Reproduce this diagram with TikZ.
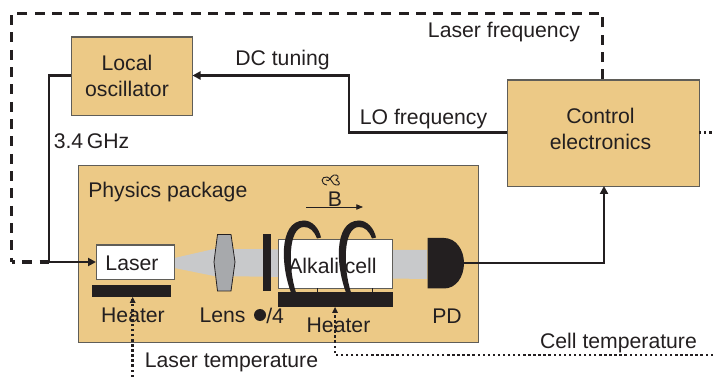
\documentclass[tikz,border=0pt]{standalone}
\usepackage{fontspec}
\setmainfont{Liberation Sans}
\usetikzlibrary{arrows.meta}
\definecolor{gd}{HTML}{ECC986}
\definecolor{bk}{HTML}{231F20}
\definecolor{ol}{HTML}{5F5D58}
\definecolor{bm}{HTML}{C8C9CB}
\definecolor{ls}{HTML}{A7A9AC}
\begin{document}
\begin{tikzpicture}[x=0.75pt,y=-0.75pt]
            \tikzstyle{every node}=[font=\fontsize{15.9}{18}\selectfont,text=bk,inner sep=0pt]
            \tikzstyle{box}=[draw=ol,line width=0.8pt,anchor=north west]
            \tikzstyle{lbl}=[yshift=-1.3pt]
            \tikzstyle{sig}=[draw=bk,line width=1.9pt]
            \tikzstyle{tipped}=[-{Triangle[length=6pt,width=6pt]}]
            \tikzstyle{dashln}=[draw=bk,line width=2.3pt,dash pattern=on 7.5pt off 5.5pt]
            \tikzstyle{dotln}=[draw=bk,line width=1.9pt,dash pattern=on 1.8pt off 2pt]
            \tikzstyle{coil}=[fill=bk,draw=none]
            \useasboundingbox (0,0) rectangle (713,377);
            \node[box,fill=gd,minimum width=300pt,minimum height=132.75pt] (pkg) at (78,165) {};
            \node[box,fill=gd,minimum width=91pt,minimum height=59pt] (lo) at (71,36.5) {};
            \node[box,fill=gd,minimum width=144.5pt,minimum height=80pt] (ctrl) at (506.5,79.5) {};
            \fill[bm] (174.5,258)--(214,249)--(427,250)--(427,279)--(214,276)--(174.5,268)--cycle;
            \node[box,fill=white,minimum width=58.5pt,minimum height=26pt] (laser) at (96,244.5) {};
            \fill[bk] (92,285.5) rectangle (171,297);
            \coordinate (ht1) at (132.7,297);
            \draw[draw=bk,fill=ls,line width=0.6pt] (217.5,234.5)--(231,234.5)--(235,262)--(231,291)--(217.5,291)--(214,262)--cycle;
            \fill[bk] (263,234) rectangle (271,291.5);
            \node[box,fill=white,minimum width=85.5pt,minimum height=37pt] (cell) at (278,239) {};
            \fill[bk] (278,292) rectangle (393,307);
            \coordinate (ht2) at (335,307.5);
            \draw[bk,line width=0.5pt] (317,288.5)--(317,292) (372.7,288.5)--(372.7,292);
            \fill[bk] (427.5,238) -- (444,238) .. controls (456,238) and (464,250) .. (464,263) .. controls (464,277) and (456,288.5) .. (444,288.5) -- (427.5,288.5) -- cycle;
            \coordinate (pd) at (464,263);
            % labels inside the cell go under the coils
            \node[lbl] (lbCel) at (332.5,264) {Alkali cell};
            % coils
            \foreach \dx in {0,55}{
              \fill[coil,xshift=\dx*0.75pt] (291,292.5) .. controls (282,270) and (277,221) .. (304,220.5) .. controls (312,220.5) and (319,228) .. (321,237.5) -- (317,238.5) .. controls (314,231) and (310,227) .. (304,227) .. controls (288,227) and (288,268) .. (296,292.5) -- cycle;
            }
            % wires
            \coordinate (c1) at (604,263);
            \coordinate (c2) at (604,186);
            \draw[sig,tipped] (pd) -- (c1) -- (c2);
            \coordinate (a1) at (506.5,132.5);
            \coordinate (a2) at (349,132.5);
            \coordinate (a3) at (349,75.5);
            \coordinate (a4) at (192.5,75.5);
            \draw[sig,tipped] (a1) -- (a2) -- (a3) -- (a4);
            \coordinate (b1) at (71,75.5);
            \coordinate (b2) at (49,75.5);
            \coordinate (b3) at (49,262);
            \coordinate (b4) at (96,262);
            \draw[sig,tipped] (b1) -- (b2) -- (b3) -- (b4);
            \coordinate (d1) at (602.5,79.5);
            \coordinate (d2) at (602.5,13.5);
            \coordinate (d3) at (11.5,13.5);
            \coordinate (d4) at (11.5,262);
            \draw[dashln] (d1) -- (d2) -- (d3) -- (d4);
            \draw[dashln,dash phase=5pt] (d4) -- (b3);
            \coordinate (e1) at (699,132.5);
            \coordinate (e2) at (713,132.5);
            \draw[dotln] (e1) -- (e2);
            \coordinate (f1) at (713,355);
            \coordinate (f2) at (335,355);
            \draw[dotln] (f1) -- (f2) -- (ht2);
            \coordinate (g1) at (132.7,377);
            \draw[dotln] (g1) -- (ht1);
            \fill[bk] (335,307) -- (332,313) -- (338,313) -- cycle;
            \fill[bk] (132.7,297) -- (129.7,303) -- (135.7,303) -- cycle;
            % field arrow
            \coordinate (h1) at (306,207);
            \coordinate (h2) at (363,207);
            \draw[bk,line width=0.6pt,-{Triangle[length=5pt,width=4pt]}] (h1) -- (h2);
            % labels
            \node[lbl] (lbLF) at (504,30) {Laser frequency};
            \node[lbl] (lbDC) at (282.5,58) {DC tuning};
            \node[lbl] (lbLO) at (423.5,117) {LO frequency};
            \node[lbl,align=center,font=\fontsize{15.9}{19.5}\selectfont] (lbLoc) at (127,74) {Local\\oscillator};
            \node[lbl,align=center,font=\fontsize{15.9}{19.5}\selectfont] (lbCtl) at (600.5,127) {Control\\electronics};
            \node[lbl] (lbGHz) at (91.5,139) {3.4\,GHz};
            \node[lbl,anchor=west] (lbPhy) at (88,190) {Physics package};
            \node[lbl] (lbLas) at (132,262) {Laser};
            \node[lbl] (lbHt1) at (133,314) {Heater};
            \node[lbl] (lbLen) at (222.5,314) {Lens};
            \fill[bk] (260,315) circle (4.5pt);
            \node[lbl,anchor=west] (lbQw) at (266,314) {/4};
            \node[lbl] (lbHt2) at (338.5,324) {Heater};
            \node[lbl] (lbPD) at (447,314) {PD};
            \node[lbl] (lbB) at (335,197) {B};
            \node[lbl] (lbLT) at (231.5,361) {Laser temperature};
            \node[lbl] (lbCT) at (618.5,341) {Cell temperature};
            % glyph above B
            \draw[bk,line width=0.7pt] (327,185) .. controls (320,184) and (321,176) .. (327,177) .. controls (332,178) and (332,185) .. (336,185) .. controls (340,186) and (341,182) .. (336,180) .. controls (340,178) and (338,174) .. (334,175) .. controls (330,176) and (330,183) .. (326,180);
          \end{tikzpicture}
\end{document}
